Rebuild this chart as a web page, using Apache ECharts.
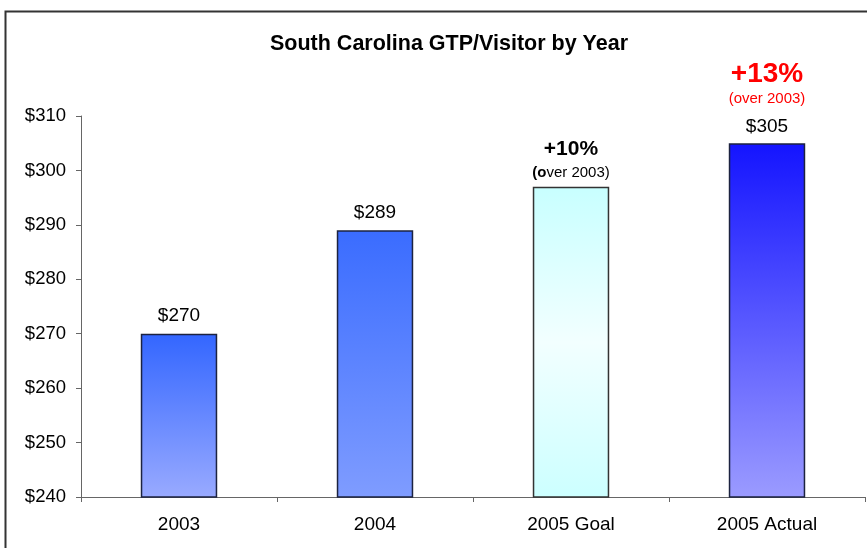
<!DOCTYPE html>
<html>
<head>
<meta charset="utf-8">
<script src="https://cdn.jsdelivr.net/npm/echarts@6/dist/echarts.min.js"></script>
<style>
html,body{margin:0;padding:0;background:#fff;}
#main{width:867px;height:548px;}
</style>
</head>
<body>
<div id="main"></div>
<script>
var categories = ['2003', '2004', '2005 Goal', '2005 Actual'];
var values = [270, 289, 297, 305];
var yTicks = [240, 250, 260, 270, 280, 290, 300, 310];
var goalNote = ['+10%', '(over 2003)'];
var actualNote = ['+13%', '(over 2003)'];
var titleText = 'South Carolina GTP/Visitor by Year';

var FONT = '"Liberation Sans", Arial, sans-serif';

function grad(top, mid, bottom) {
  var stops = [{offset: 0, color: top}];
  if (mid) stops.push({offset: 0.5, color: mid});
  stops.push({offset: 1, color: bottom});
  return new echarts.graphic.LinearGradient(0, 0, 0, 1, stops);
}

var barStyles = [
  {color: grad('#3366ff', null, '#99aaff'), borderColor: '#1c2340'},
  {color: grad('#3a6cff', null, '#7f9cff'), borderColor: '#1c2340'},
  {color: grad('#c8ffff', '#f2ffff', '#ccffff'), borderColor: '#333333'},
  {color: grad('#1414ff', null, '#9b9bff'), borderColor: '#1c2340'}
];

var labels = [
  {formatter: '$' + values[0]},
  {formatter: '$' + values[1]},
  {formatter: '{g|' + goalNote[0] + '}\n{gb|(o}{gs|' + goalNote[1].slice(2) + '}', distance: 5},
  {formatter: '{r|' + actualNote[0] + '}\n{rs|' + actualNote[1] + '}\n{v|$' + values[3] + '}', distance: 5}
];

var data = values.map(function (v, i) {
  return {
    value: v,
    itemStyle: {color: barStyles[i].color, borderColor: barStyles[i].borderColor, borderWidth: 1.5},
    label: labels[i]
  };
});

var chart = echarts.init(document.getElementById('main'), null, {renderer: 'canvas'});
chart.setOption({
  backgroundColor: '#ffffff',
  animation: false,
  title: {
    text: titleText,
    left: 265,
    top: 28,
    textStyle: {fontFamily: FONT, fontSize: 21.5, fontWeight: 'bold', color: '#000'}
  },
  graphic: [{
    type: 'rect',
    left: 3, top: 9,
    shape: {width: 900, height: 600},
    style: {fill: 'none', stroke: '#333', lineWidth: 2},
    silent: true
  }],
  grid: {left: 81, right: 2, top: 116, bottom: 51, containLabel: false},
  xAxis: {
    type: 'category',
    data: categories,
    axisLine: {lineStyle: {color: '#666', width: 1}},
    axisTick: {show: true, length: 5, lineStyle: {color: '#666'}, alignWithLabel: false},
    axisLabel: {fontFamily: FONT, fontSize: 19, color: '#000', margin: 18}
  },
  yAxis: {
    type: 'value',
    min: yTicks[0],
    max: yTicks[yTicks.length - 1],
    interval: yTicks[1] - yTicks[0],
    axisLine: {show: true, lineStyle: {color: '#666', width: 1}},
    axisTick: {show: true, length: 5, inside: false, lineStyle: {color: '#666'}},
    splitLine: {show: false},
    axisLabel: {fontFamily: FONT, fontSize: 18.5, color: '#000', margin: 15,
      formatter: function (v) { return '$' + v; }}
  },
  series: [{
    type: 'bar',
    data: data,
    barWidth: '39%',
    label: {
      show: true,
      position: 'top',
      distance: 8,
      fontFamily: FONT,
      fontSize: 19,
      color: '#000',
      rich: {
        g: {fontFamily: FONT, fontSize: 21, fontWeight: 'bold', color: '#000', lineHeight: 30},
        gb: {fontFamily: FONT, fontSize: 15, fontWeight: 'bold', color: '#000', lineHeight: 18},
        gs: {fontFamily: FONT, fontSize: 15, color: '#000', lineHeight: 18},
        r: {fontFamily: FONT, fontSize: 28, fontWeight: 'bold', color: '#ff0000', lineHeight: 16},
        rs: {fontFamily: FONT, fontSize: 15, color: '#ff0000', lineHeight: 34},
        v: {fontFamily: FONT, fontSize: 19, color: '#000', lineHeight: 22}
      }
    }
  }]
});
</script>
</body>
</html>
